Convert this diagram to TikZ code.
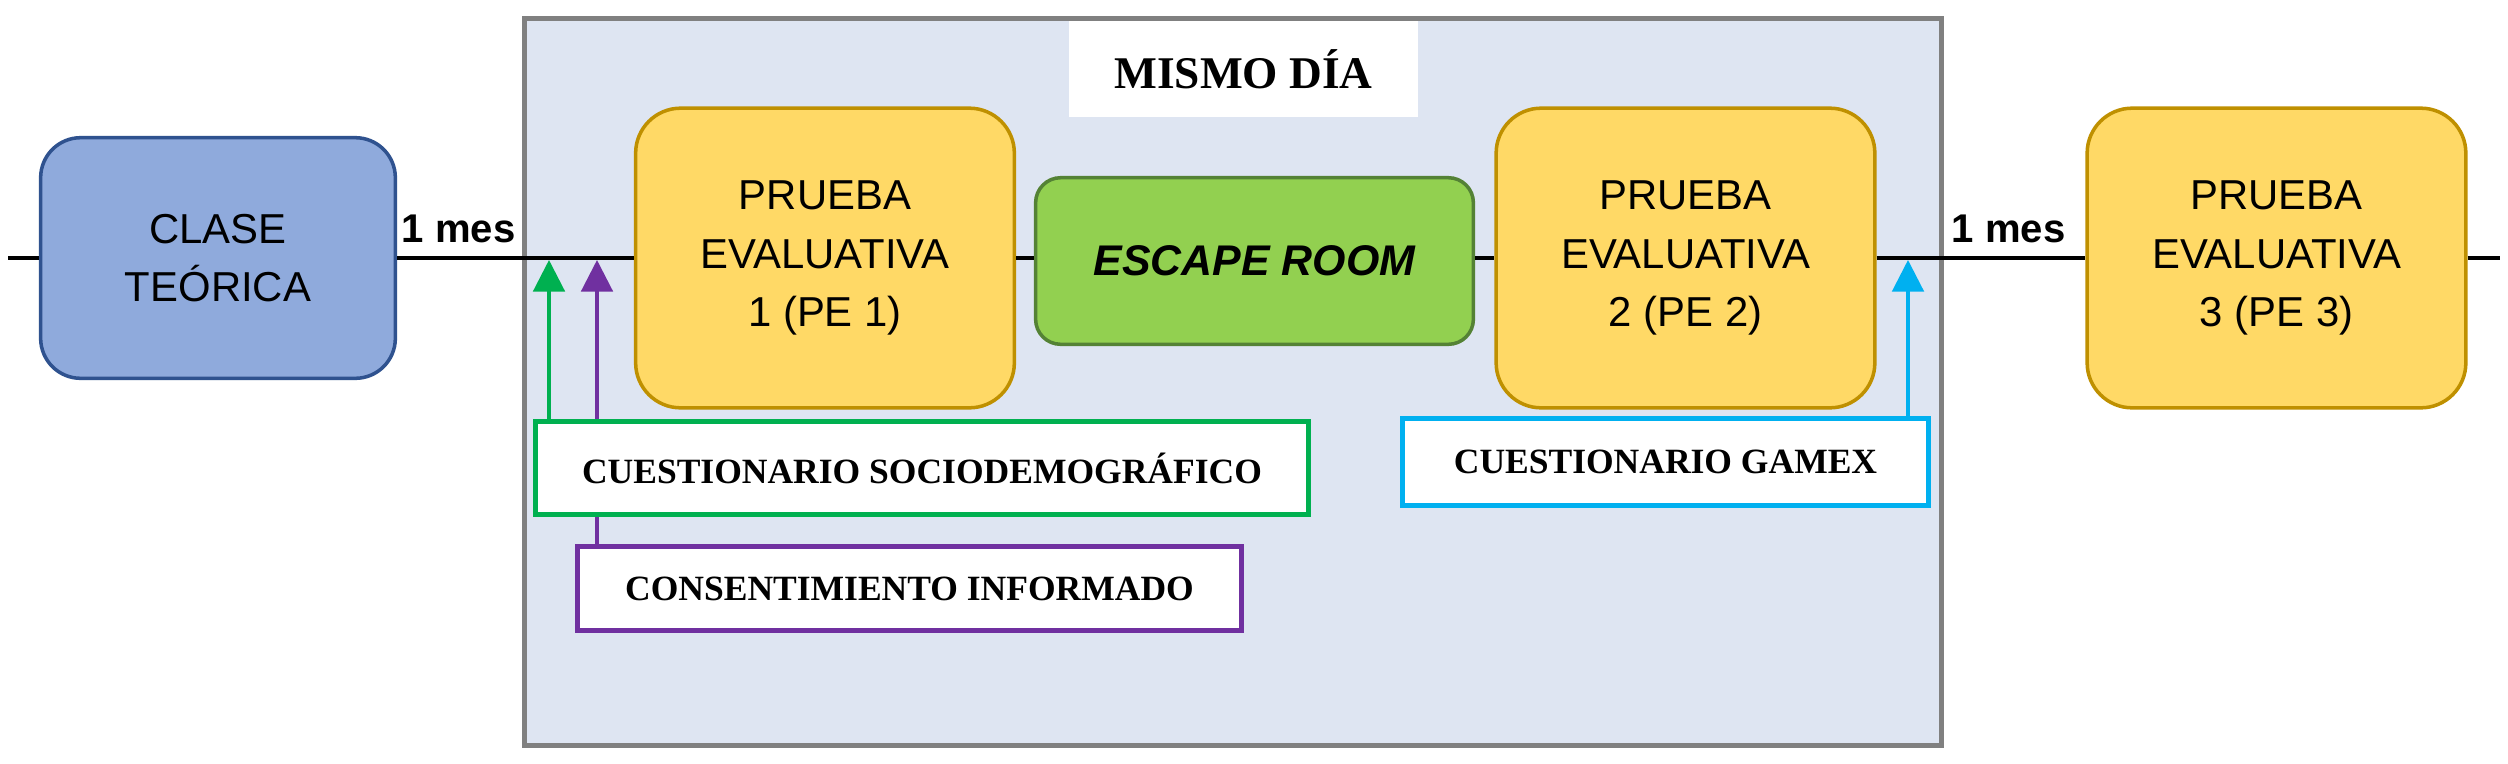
\documentclass[tikz,border=0pt]{standalone}
\usepackage{fontspec}
\newfontfamily\sansf{Liberation Sans}
\newfontfamily\serf{Liberation Serif}
\usetikzlibrary{arrows.meta}
\definecolor{bluefill}{RGB}{143,170,220}
\definecolor{blueline}{RGB}{47,82,143}
\definecolor{goldfill}{RGB}{255,217,102}
\definecolor{goldline}{RGB}{191,144,0}
\definecolor{greenfill}{RGB}{146,208,80}
\definecolor{greenline}{RGB}{84,130,53}
\definecolor{framefill}{RGB}{222,229,242}
\definecolor{framegrey}{RGB}{128,128,128}
\definecolor{qgreen}{RGB}{0,176,80}
\definecolor{qpurple}{RGB}{112,48,160}
\definecolor{qblue}{RGB}{0,176,240}
\tikzset{
  sanstext/.style={font=\sansf\fontsize{11.9}{16.6}\selectfont, align=center, inner sep=0pt},
  clasebox/.style={sanstext, draw=blueline, fill=bluefill, line width=1pt, rounded corners=0.4cm,
    minimum width=3.545cm, minimum height=2.405cm},
  pebox/.style={sanstext, draw=goldline, fill=goldfill, line width=1pt, rounded corners=0.45cm,
    minimum width=3.785cm, minimum height=2.995cm},
  escbox/.style={font=\sansf\fontsize{12.2}{14}\selectfont\bfseries\itshape, inner sep=0pt,
    draw=greenline, fill=greenfill, line width=1pt, rounded corners=0.25cm,
    minimum width=4.375cm, minimum height=1.665cm},
  qbox/.style={font=\serf\fontsize{10.1}{13}\selectfont\bfseries, fill=white, line width=1.4pt, inner sep=0pt},
  mainline/.style={line width=1.15pt, black},
  uparrow/.style={line width=0.9pt, -{Triangle[length=9pt,width=9pt]}},
  meslabel/.style={font=\sansf\fontsize{11.4}{13}\selectfont\bfseries, inner sep=0pt, anchor=base west}
}
\begin{document}
\begin{tikzpicture}[x=0.01cm,y=-0.01cm]
\useasboundingbox (0,0) rectangle (2508,763);
\fill[white] (0,0) rectangle (2508,763);
% frame
\node[draw=framegrey, fill=framefill, line width=1.4pt, minimum width=14.17cm, minimum height=7.27cm, inner sep=0pt] (frame) at (1233,382) {};
\node[fill=white, minimum width=3.49cm, minimum height=0.96cm, inner sep=0pt,
      font=\serf\fontsize{12.9}{16}\selectfont\bfseries] (mismo) at (1243.5,69) {MISMO DÍA};
% main boxes
\node[clasebox] (clase) at (218,258) {CLASE\\TEÓRICA};
\node[pebox] (pe1) at (825,258) {PRUEBA\\EVALUATIVA\\1 (PE 1)};
\node[escbox] (esc) at (1254.5,261) {ESCAPE ROOM};
\node[pebox] (pe2) at (1685.5,258) {PRUEBA\\EVALUATIVA\\2 (PE 2)};
\node[pebox] (pe3) at (2276.5,258) {PRUEBA\\EVALUATIVA\\3 (PE 3)};
% main line
\coordinate (lstart) at (8,258);
\coordinate (lend) at (2500,258);
\draw[mainline] (lstart) -- (clase.west);
\draw[mainline] (clase.east) -- (pe1.west);
\draw[mainline] (pe1.east) -- (pe1.east -| esc.west);
\draw[mainline] (pe2.west -| esc.east) -- (pe2.west);
\draw[mainline] (pe2.east) -- (pe3.west);
\draw[mainline] (pe3.east) -- (lend);
% labels
\node[meslabel] (mes1) at (401,242) {1 mes};
\node[meslabel] (mes2) at (1951,242) {1 mes};
% questionnaires
\coordinate (tipg) at (549,260);
\coordinate (tipp) at (597,260);
\coordinate (tipb) at (1908,260);
\node[qbox, draw=qpurple, minimum width=6.64cm, minimum height=0.84cm] (cons) at (909.5,588.5) {CONSENTIMIENTO INFORMADO};
\draw[qpurple, uparrow] (cons.north -| tipp) -- (tipp);
\node[qbox, draw=qgreen, minimum width=7.73cm, minimum height=0.93cm] (socio) at (922,468) {CUESTIONARIO SOCIODEMOGRÁFICO};
\draw[qgreen, uparrow] (socio.north -| tipg) -- (tipg);
\node[qbox, draw=qblue, minimum width=5.26cm, minimum height=0.87cm] (gamex) at (1665.5,462) {CUESTIONARIO GAMEX};
\draw[qblue, uparrow] (gamex.north -| tipb) -- (tipb);
\end{tikzpicture}
\end{document}
